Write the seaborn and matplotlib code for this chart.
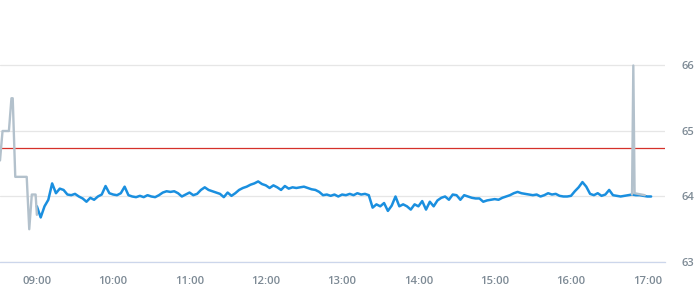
import matplotlib
matplotlib.use("Agg")
import matplotlib.pyplot as plt
import matplotlib.dates as mdates
import seaborn as sns
import pandas as pd

# ---- data ----
pre_times = ["08:31", "08:33", "08:38", "08:40", "08:41", "08:43", "08:52",
             "08:54", "08:56", "08:59", "09:00"]
pre_values = [64.55, 65.0, 65.0, 65.5, 65.5, 64.3, 64.3, 63.5, 64.03, 64.03, 63.72]

post_times = ["16:48", "16:49", "16:50", "16:58"]
post_values = [64.03, 66.0, 64.05, 64.02]

main_start = "09:00"
main_step_minutes = 3
main_values = [
    63.85, 63.68, 63.85, 63.95, 64.20, 64.05, 64.12, 64.10, 64.03, 64.02,
    64.04, 64.00, 63.97, 63.92, 63.98, 63.95, 64.00, 64.03, 64.16, 64.05,
    64.03, 64.02, 64.05, 64.15, 64.02, 64.00, 63.99, 64.01, 63.99, 64.02,
    64.00, 63.99, 64.02, 64.06, 64.08, 64.07, 64.08, 64.05, 64.00, 64.03,
    64.06, 64.02, 64.04, 64.10, 64.14, 64.10, 64.08, 64.06, 64.04, 63.99,
    64.06, 64.01, 64.05, 64.10, 64.13, 64.15, 64.18, 64.20, 64.23, 64.19,
    64.17, 64.13, 64.17, 64.14, 64.10, 64.16, 64.12, 64.14, 64.13, 64.14,
    64.15, 64.13, 64.11, 64.10, 64.07, 64.02, 64.03, 64.01, 64.03, 64.00,
    64.03, 64.02, 64.04, 64.02, 64.05, 64.03, 64.04, 64.02, 63.83, 63.88,
    63.85, 63.90, 63.78, 63.86, 64.00, 63.85, 63.88, 63.85, 63.80, 63.88,
    63.85, 63.93, 63.80, 63.92, 63.85, 63.94, 63.98, 64.00, 63.95, 64.03,
    64.02, 63.95, 64.02, 64.00, 63.98, 63.97, 63.97, 63.92, 63.94, 63.95,
    63.96, 63.95, 63.98, 64.00, 64.02, 64.05, 64.07, 64.05, 64.04, 64.03,
    64.02, 64.03, 64.00, 64.02, 64.05, 64.03, 64.04, 64.01, 64.00, 64.00,
    64.01, 64.08, 64.14, 64.22, 64.15, 64.04, 64.02, 64.05, 64.01, 64.03,
    64.10, 64.02, 64.01, 64.00, 64.01, 64.02, 64.03, 64.02, 64.02, 64.01,
    64.00, 64.00,
]
prev_close = 64.74
y_ticks = [63, 64, 65, 66]
x_tick_hours = [9, 10, 11, 12, 13, 14, 15, 16, 17]

day = "2024-01-02 "
pre_df = pd.DataFrame({"t": pd.to_datetime([day + t for t in pre_times]), "v": pre_values})
post_df = pd.DataFrame({"t": pd.to_datetime([day + t for t in post_times]), "v": post_values})
main_df = pd.DataFrame({
    "t": pd.date_range(day + main_start, periods=len(main_values),
                       freq=f"{main_step_minutes}min"),
    "v": main_values,
})

# ---- style ----
sns.set_style("white")
plt.rcParams["font.family"] = ["Open Sans", "DejaVu Sans"]

fig = plt.figure(figsize=(6.95, 3.0), dpi=100)
ax = fig.add_axes([0.0, 0.1267, 0.957, 0.8733])

blue = "#1a8fdf"
gray = "#b3c1cc"
red = "#d5312a"
label_color = "#7d8a95"

sns.lineplot(data=main_df, x="t", y="v", ax=ax, color=blue, linewidth=1.8, zorder=3)
sns.lineplot(data=pre_df, x="t", y="v", ax=ax, color=gray, linewidth=1.7, zorder=4)
sns.lineplot(data=post_df, x="t", y="v", ax=ax, color=gray, linewidth=1.7, zorder=4)
ax.axhline(prev_close, color=red, linewidth=0.9, zorder=2)

ax.set_ylim(63, 67)
ax.set_xlim(pd.Timestamp(day + "08:31"), pd.Timestamp(day + "17:14"))

ax.set_yticks(y_ticks)
ax.yaxis.tick_right()
ax.set_yticklabels([str(v) for v in y_ticks])
ax.tick_params(axis="y", length=0, pad=12, labelsize=8.0, labelcolor=label_color)

xt = [pd.Timestamp(day + f"{h:02d}:00") for h in x_tick_hours]
ax.set_xticks(xt)
ax.xaxis.set_major_formatter(mdates.DateFormatter("%H:%M"))
ax.tick_params(axis="x", length=5, width=0.8, color="#ccd6eb", pad=5,
               labelsize=8.2, labelcolor=label_color)
for lab in ax.get_xticklabels() + ax.get_yticklabels():
    lab.set_fontweight("semibold")

ax.grid(axis="y", color="#e6e6e6", linewidth=0.9)
ax.grid(axis="x", visible=False)
ax.set_axisbelow(True)

for s in ["top", "left", "right"]:
    ax.spines[s].set_visible(False)
ax.spines["bottom"].set_color("#ccd6eb")
ax.spines["bottom"].set_linewidth(0.9)

ax.set_xlabel("")
ax.set_ylabel("")

fig.savefig("out.png", dpi=100)
